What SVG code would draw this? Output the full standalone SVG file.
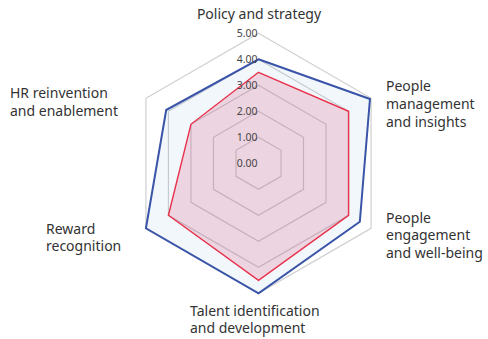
<svg xmlns="http://www.w3.org/2000/svg" width="488" height="339" viewBox="0 0 488 339">
<style>
.bg{fill:#ffffff}
.grid{fill:none;stroke:#cfcfcf;stroke-width:1.2}
.bfill{fill:#4a90d9;fill-opacity:0.07;stroke:none}
.rfill{fill:#d8406e;fill-opacity:0.19;stroke:none}
.bline{fill:none;stroke:#3a54a8;stroke-width:2;stroke-linejoin:miter}
.rline{fill:none;stroke:#e8304a;stroke-width:1.4;stroke-linejoin:miter}
.lab{font-family:"Noto Sans","Liberation Sans",Arial,sans-serif;font-size:14px;fill:#333333}
.tick{font-family:"Noto Sans","Liberation Sans",Arial,sans-serif;font-size:10.5px;fill:#444444;text-anchor:end;dominant-baseline:central}
</style>
<rect class="bg" x="0" y="0" width="488" height="339"/>
<g id="grid">
<polygon class="grid" points="258.5,137.3 281,150.3 281,176.3 258.5,189.3 236,176.3 236,150.3"/>
<polygon class="grid" points="258.5,111.3 303.5,137.3 303.5,189.3 258.5,215.3 213.5,189.3 213.5,137.3"/>
<polygon class="grid" points="258.5,85.3 326.05,124.3 326.05,202.3 258.5,241.3 190.95,202.3 190.95,124.3"/>
<polygon class="grid" points="258.5,59.3 348.57,111.3 348.57,215.3 258.5,267.3 168.43,215.3 168.43,111.3"/>
<polygon class="grid" points="258.5,33.3 371.08,98.3 371.08,228.3 258.5,293.3 145.92,228.3 145.92,98.3"/>
</g>
<g id="series-blue">
<polygon class="bfill" points="258.5,59.3 369.96,99 359.82,221.8 258.5,293.3 145.92,228.3 166.2,110"/>
</g>
<g id="series-red">
<polygon class="rfill" points="258.5,72.3 348.57,111.3 348.57,215.3 258.5,280.3 168.43,215.3 190.95,124.3"/>
</g>
<g id="lines">
<polygon class="bline" points="258.5,59.3 369.96,99 359.82,221.8 258.5,293.3 145.92,228.3 166.2,110"/>
<polygon class="rline" points="258.5,72.3 348.57,111.3 348.57,215.3 258.5,280.3 168.43,215.3 190.95,124.3"/>
</g>
<g id="ticks">
<text class="tick" x="257.5" y="163.3">0.00</text>
<text class="tick" x="257.5" y="137.3">1.00</text>
<text class="tick" x="257.5" y="111.3">2.00</text>
<text class="tick" x="257.5" y="85.3">3.00</text>
<text class="tick" x="257.5" y="59.3">4.00</text>
<text class="tick" x="257.5" y="33.3">5.00</text>
</g>
<g id="policy"><text class="lab" x="259" y="19" text-anchor="middle">Policy and strategy</text></g>
<g id="people-management"><text class="lab" x="386" y="91">People</text><text class="lab" x="386" y="109">management</text><text class="lab" x="386" y="127">and insights</text></g>
<g id="people-engagement"><text class="lab" x="386" y="222.5">People</text><text class="lab" x="386" y="240">engagement</text><text class="lab" x="386" y="257.5">and well-being</text></g>
<g id="talent"><text class="lab" x="190" y="315.5">Talent identification</text><text class="lab" x="190" y="333">and development</text></g>
<g id="reward"><text class="lab" x="46" y="233.5">Reward</text><text class="lab" x="46" y="251">recognition</text></g>
<g id="hr"><text class="lab" x="10" y="98">HR reinvention</text><text class="lab" x="10" y="115.5">and enablement</text></g>
</svg>
